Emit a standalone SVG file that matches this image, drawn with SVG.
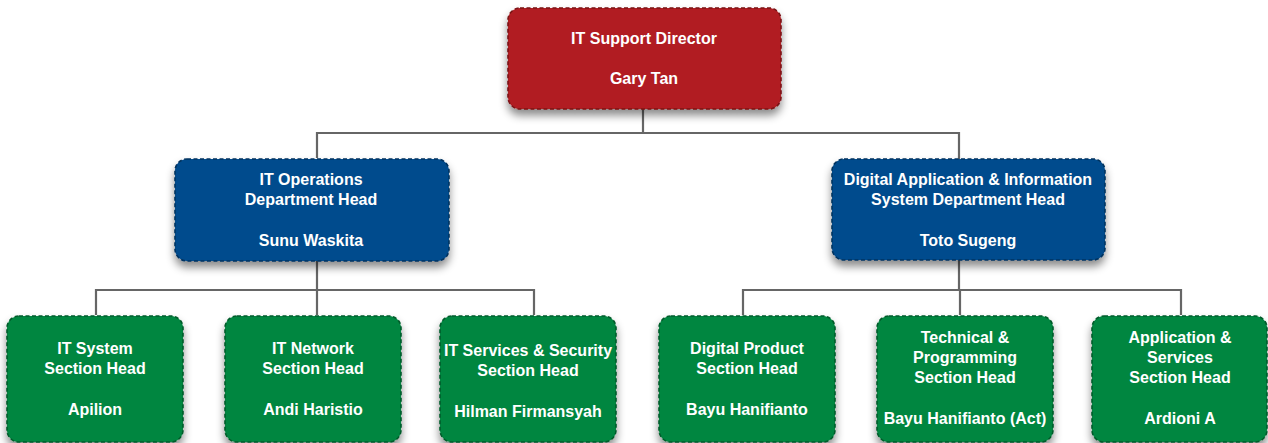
<svg xmlns="http://www.w3.org/2000/svg" width="1268" height="443" viewBox="0 0 1268 443">
<style>
.box{stroke-width:1.6;stroke-dasharray:4 2.5;filter:url(#sh)}
.red{fill:#B11F24;stroke:#7A1216}
.blue{fill:#004B8D;stroke:#00335f}
.green{fill:#008641;stroke:#005c2b}
text{font-family:"Liberation Sans",Arial,sans-serif;font-weight:bold;font-size:16px;fill:#fff;text-anchor:middle}
.conn{stroke:#666;stroke-width:2.2;fill:none}
</style>
<defs>
<filter id="sh" x="-20%" y="-20%" width="140%" height="160%">
<feDropShadow dx="0" dy="6" stdDeviation="4" flood-color="#000" flood-opacity="0.45"/>
</filter>
</defs>
<g id="connectors">
<path class="conn" d="M643 108V133M317 158V133H959V159"/>
<path class="conn" d="M317 261V290M96 315V290H534V315M317 290V315"/>
<path class="conn" d="M959 260V290M743 315V290H1181V315M960 290V315"/>
</g>
<g id="director">
<rect class="box red" x="508" y="8" width="273" height="101" rx="12"/>
<text x="644" y="44">IT Support Director</text>
<text x="644" y="84">Gary Tan</text>
</g>
<g id="itops">
<rect class="box blue" x="175" y="159" width="274" height="102" rx="12"/>
<text x="311" y="185">IT Operations</text>
<text x="311" y="205">Department Head</text>
<text x="311" y="246">Sunu Waskita</text>
</g>
<g id="digital">
<rect class="box blue" x="832" y="159" width="273" height="101" rx="12"/>
<text x="968" y="185">Digital Application &amp; Information</text>
<text x="968" y="205">System Department Head</text>
<text x="968" y="246">Toto Sugeng</text>
</g>
<g id="itsystem">
<rect class="box green" x="7" y="316" width="176" height="126" rx="12"/>
<text x="95" y="354">IT System</text>
<text x="95" y="374">Section Head</text>
<text x="95" y="415">Apilion</text>
</g>
<g id="itnetwork">
<rect class="box green" x="225" y="316" width="176" height="126" rx="12"/>
<text x="313" y="354">IT Network</text>
<text x="313" y="374">Section Head</text>
<text x="313" y="415">Andi Haristio</text>
</g>
<g id="itservices">
<rect class="box green" x="440" y="316" width="176" height="126" rx="12"/>
<text x="528" y="356">IT Services &amp; Security</text>
<text x="528" y="376">Section Head</text>
<text x="528" y="417">Hilman Firmansyah</text>
</g>
<g id="digitalproduct">
<rect class="box green" x="659" y="316" width="176" height="126" rx="12"/>
<text x="747" y="354">Digital Product</text>
<text x="747" y="374">Section Head</text>
<text x="747" y="415">Bayu Hanifianto</text>
</g>
<g id="technical">
<rect class="box green" x="877" y="316" width="176" height="126" rx="12"/>
<text x="965" y="343">Technical &amp;</text>
<text x="965" y="363">Programming</text>
<text x="965" y="383">Section Head</text>
<text x="965" y="424">Bayu Hanifianto (Act)</text>
</g>
<g id="appservices">
<rect class="box green" x="1092" y="316" width="175" height="126" rx="12"/>
<text x="1180" y="343">Application &amp;</text>
<text x="1180" y="363">Services</text>
<text x="1180" y="383">Section Head</text>
<text x="1180" y="424">Ardioni A</text>
</g>
</svg>
